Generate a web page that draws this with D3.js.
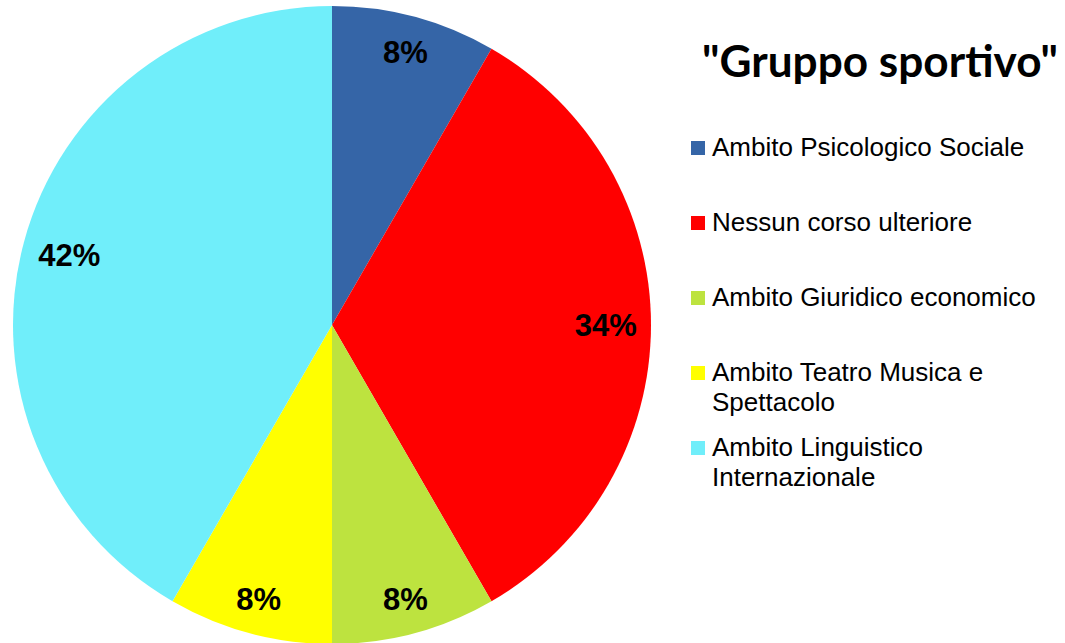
<!DOCTYPE html>
<html>
<head>
<meta charset="utf-8">
<script src="https://cdn.jsdelivr.net/npm/d3@7"></script>
<style>
  body { margin: 0; background: #fff; }
</style>
</head>
<body>
<svg></svg>
<script>
// chart data
const categories = [
    "Ambito Psicologico Sociale",
    "Nessun corso ulteriore",
    "Ambito Giuridico economico",
    "Ambito Teatro Musica e Spettacolo",
    "Ambito Linguistico Internazionale"
];
const values = [1, 4, 1, 1, 5];
const percentLabels = ["8%", "34%", "8%", "8%", "42%"];
const colors = ["#3565a7", "#ff0000", "#bde33f", "#ffff00", "#70eefa"];
// legend entries that wrap onto two lines
const legendLines = [
    ["Ambito Psicologico Sociale"],
    ["Nessun corso ulteriore"],
    ["Ambito Giuridico economico"],
    ["Ambito Teatro Musica e", "Spettacolo"],
    ["Ambito Linguistico", "Internazionale"]
];
const title = "\"Gruppo sportivo\"";

function drawPie() {
    const width = 1065;
    const height = 643;
    const cx = 332, cy = 325, radius = 319;

    let svg = d3.select("svg")
        .attr("width", width)
        .attr("height", height);

    let data = categories.map((c, i) => ({ name: c, value: values[i], label: percentLabels[i], color: colors[i] }));

    let pie = d3.pie()
        .value(d => d.value)
        .sort(null);

    let arc = d3.arc().innerRadius(0).outerRadius(radius);

    let g = svg.append("g").attr("transform", `translate(${cx}, ${cy})`);

    let slices = g.selectAll("g.slice")
        .data(pie(data))
        .enter().append("g")
        .attr("class", "slice");

    slices.append("path")
        .attr("d", arc)
        .attr("fill", d => d.data.color);

    // labels sit inside the rim, pulled in by the size of their box
    slices.append("text")
        .attr("text-anchor", "middle")
        .attr("dy", "0.36em")
        .attr("font-family", "'Liberation Sans', Arial, sans-serif")
        .attr("font-weight", "bold")
        .attr("font-size", 31)
        .attr("fill", "#000")
        .text(d => d.data.label)
        .attr("transform", function(d) {
            let box = this.getBBox();
            let a = (d.startAngle + d.endAngle) / 2;
            let extent = Math.abs(Math.sin(a)) * box.width / 2 + Math.abs(Math.cos(a)) * box.height * 0.37;
            let r = 297 - 0.75 * extent;
            return `translate(${r * Math.sin(a)}, ${-r * Math.cos(a)})`;
        });

    // title, squeezed to the width of the original
    let t = svg.append("text")
        .text(title)
        .attr("x", 880)
        .attr("y", 77)
        .attr("text-anchor", "middle")
        .attr("font-family", "Lato, 'Open Sans', sans-serif")
        .attr("font-weight", "bold")
        .attr("font-size", 40)
        .attr("fill", "#000");
    let tw = t.node().getComputedTextLength();
    t.attr("font-size", 40 * 356 / tw);

    // legend
    const legendX = 691;
    const rowBase = [156, 231, 306, 381, 456];
    let legend = svg.append("g");
    legendLines.forEach((lines, i) => {
        legend.append("rect")
            .attr("x", legendX)
            .attr("y", rowBase[i] - 15)
            .attr("width", 14)
            .attr("height", 14)
            .attr("fill", colors[i]);
        let txt = legend.append("text")
            .attr("x", legendX + 21)
            .attr("y", rowBase[i])
            .attr("font-family", "'Liberation Sans', Arial, sans-serif")
            .attr("font-size", 26)
            .attr("fill", "#000");
        lines.forEach((line, j) => {
            txt.append("tspan")
                .attr("x", legendX + 21)
                .attr("dy", j === 0 ? 0 : 30)
                .text(line);
        });
    });
}

drawPie();
</script>
</body>
</html>
